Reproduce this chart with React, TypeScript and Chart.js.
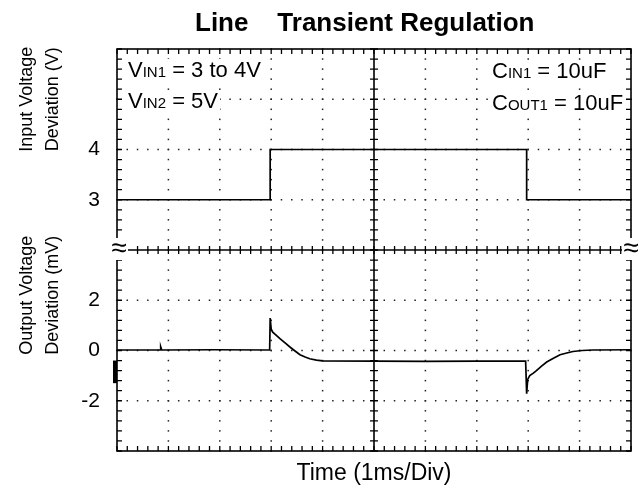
import { useEffect, useRef } from "react";
import { Chart, registerables } from "chart.js";

Chart.register(...registerables);

// ---- data ----
const titleText = "Line    Transient Regulation";
const xTitle = "Time (1ms/Div)";
const inputTitle = ["Input Voltage", "Deviation (V)"];
const outputTitle = ["Output Voltage", "Deviation (mV)"];

const timeDivisions = 10; // ms, 1 ms / div
const inputRange = [2, 6]; // V, 1 V / div
const outputRange = [-4, 4]; // mV, 2 mV / div
const inputTicks = [3, 4];
const outputTicks = [-2, 0, 2];

const inputTime = [0, 2.98, 2.98, 7.97, 7.97, 10];
const inputVolts = [3, 3, 4, 4, 3, 3];

const outputTime = [
  0, 0.84, 0.85, 0.87, 1.9, 2.97, 2.98, 3.0, 3.03, 3.1, 3.17, 3.27, 3.37, 3.47, 3.56, 3.66,
  3.75, 3.88, 4.0, 5.0, 6.0, 7.0, 7.95, 7.97, 7.99, 8.03, 8.1, 8.16, 8.26, 8.36, 8.5, 8.62,
  8.75, 8.87, 9.05, 9.26, 10,
];
const outputMv = [
  0.02, 0.02, 0.15, 0.02, 0.03, 0.02, 1.29, 0.85, 0.73, 0.6, 0.47, 0.3, 0.13, -0.03, -0.17, -0.26,
  -0.33, -0.38, -0.41, -0.42, -0.43, -0.42, -0.42, -1.72, -1.15, -1.0, -0.9, -0.8, -0.62, -0.46,
  -0.3, -0.17, -0.1, -0.04, 0, 0.02, 0.03,
];
const groundMarkerMv = [-0.4, -1.3];

const leftNotes = [
  [{ t: "V", s: 22 }, { t: "IN1", s: 15 }, { t: " = 3 to 4V", s: 22 }],
  [{ t: "V", s: 22 }, { t: "IN2", s: 15 }, { t: " = 5V", s: 22 }],
];
const rightNotes = [
  [{ t: "C", s: 22 }, { t: "IN1", s: 15 }, { t: " = 10uF", s: 22 }],
  [{ t: "C", s: 22 }, { t: "OUT1", s: 15 }, { t: " = 10uF", s: 22 }],
];

const FONT = "'Liberation Sans', Arial, Helvetica, sans-serif";

function drawRich(ctx: CanvasRenderingContext2D, parts: { t: string; s: number }[], x: number, baseline: number) {
  let w = 0;
  for (const p of parts) {
    ctx.font = `${p.s}px ${FONT}`;
    w += ctx.measureText(p.t).width;
  }
  ctx.fillStyle = "#fff";
  ctx.fillRect(x - 2, baseline - 18, w + 4, 23);
  ctx.fillStyle = "#000";
  ctx.textBaseline = "alphabetic";
  ctx.textAlign = "left";
  let cx = x;
  for (const p of parts) {
    ctx.font = `${p.s}px ${FONT}`;
    ctx.fillText(p.t, cx, baseline);
    cx += ctx.measureText(p.t).width;
  }
}

const scopePlugin = {
  id: "scope",
  beforeDatasetsDraw(chart: any) {
    const { ctx, chartArea: a, scales } = chart;
    const xs = scales.x, yi = scales.yIn, yo = scales.yOut;
    const xMinor: number[] = [];
    for (let k = 0; k <= timeDivisions * 5; k++) xMinor.push(xs.getPixelForValue(k / 5));
    const yMinor: number[] = [];
    const inStep = (inputRange[1] - inputRange[0]) / 20;
    const outStep = (outputRange[1] - outputRange[0]) / 20;
    for (let k = 0; k <= 20; k++) yMinor.push(yi.getPixelForValue(inputRange[1] - k * inStep));
    for (let k = 1; k <= 20; k++) yMinor.push(yo.getPixelForValue(outputRange[1] - k * outStep));
    const xMajor: number[] = [];
    for (let t = 1; t < timeDivisions; t++) if (t !== timeDivisions / 2) xMajor.push(xs.getPixelForValue(t));
    const yMajor: number[] = [];
    for (let v = inputRange[0] + 1; v < inputRange[1]; v++) yMajor.push(yi.getPixelForValue(v));
    for (let v = outputRange[0] + 2; v < outputRange[1]; v += 2) yMajor.push(yo.getPixelForValue(v));

    ctx.save();
    ctx.fillStyle = "#222";
    for (const x of xMajor) for (const y of yMinor) ctx.fillRect(x - 0.75, y - 0.75, 1.5, 1.5);
    for (const y of yMajor) for (const x of xMinor) ctx.fillRect(x - 0.75, y - 0.75, 1.5, 1.5);

    ctx.strokeStyle = "#000";
    ctx.lineWidth = 1.6;
    const cx = xs.getPixelForValue(timeDivisions / 2);
    const cy = yi.getPixelForValue(inputRange[0]);
    ctx.beginPath();
    ctx.moveTo(cx, a.top); ctx.lineTo(cx, a.bottom);
    ctx.moveTo(a.left, cy); ctx.lineTo(a.right, cy);
    ctx.stroke();
    ctx.lineWidth = 1.3;
    ctx.beginPath();
    for (const y of yMinor) { ctx.moveTo(cx - 4, y); ctx.lineTo(cx + 4, y); }
    for (const x of xMinor) { ctx.moveTo(x, cy - 4); ctx.lineTo(x, cy + 4); }
    for (const x of xMinor) {
      ctx.moveTo(x, a.top); ctx.lineTo(x, a.top + 5);
      ctx.moveTo(x, a.bottom); ctx.lineTo(x, a.bottom - 5);
    }
    for (const y of yMinor) {
      ctx.moveTo(a.left, y); ctx.lineTo(a.left + 5, y);
      ctx.moveTo(a.right, y); ctx.lineTo(a.right - 5, y);
    }
    ctx.stroke();
    ctx.lineWidth = 1.6;
    ctx.strokeRect(a.left, a.top, a.right - a.left, a.bottom - a.top);

    // ground marker
    const g0 = yo.getPixelForValue(groundMarkerMv[0]);
    const g1 = yo.getPixelForValue(groundMarkerMv[1]);
    ctx.fillStyle = "#000";
    ctx.fillRect(a.left - 4, g0, 4, g1 - g0);
    ctx.restore();
  },
  afterDatasetsDraw(chart: any) {
    const { ctx, chartArea: a, scales } = chart;
    const yi = scales.yIn;
    const cy = yi.getPixelForValue(inputRange[0]);
    ctx.save();
    // break symbols
    ctx.font = `28px ${FONT}`;
    ctx.textAlign = "center";
    ctx.textBaseline = "middle";
    for (const x of [a.left + 2, a.right]) {
      ctx.fillStyle = "#fff";
      ctx.fillRect(x - 9, cy - 12, 18, 22);
      ctx.fillStyle = "#000";
      ctx.fillText("\u2248", x, cy - 1);
    }
    // notes
    drawRich(ctx, leftNotes[0], a.left + 11, a.top + 28);
    drawRich(ctx, leftNotes[1], a.left + 11, a.top + 59);
    drawRich(ctx, rightNotes[0], a.right - 139, a.top + 29);
    drawRich(ctx, rightNotes[1], a.right - 139, a.top + 61);
    ctx.restore();
  },
  afterDraw(chart: any) {
    const { ctx, chartArea: a, scales } = chart;
    const yi = scales.yIn, yo = scales.yOut;
    const cx = (a.left + a.right) / 2;
    ctx.save();
    ctx.fillStyle = "#000";
    ctx.textAlign = "left";
    ctx.textBaseline = "alphabetic";
    ctx.font = `bold 26px ${FONT}`;
    ctx.fillText(titleText, a.left + 78, 31);
    ctx.textAlign = "center";
    ctx.font = `23px ${FONT}`;
    ctx.fillText(xTitle, cx, 480);
    // y titles
    ctx.textBaseline = "middle";
    const drawY = (lines: string[], yc: number) => {
      ctx.save();
      ctx.translate(0, yc);
      ctx.rotate(-Math.PI / 2);
      ctx.font = `18px ${FONT}`;
      ctx.fillText(lines[0], 0, 27);
      ctx.fillText(lines[1], 0, 53);
      ctx.restore();
    };
    drawY(inputTitle, yi.getPixelForValue(5));
    drawY(outputTitle, yo.getPixelForValue(2.2));
    ctx.restore();
  },
};

function tickList(values: number[]) {
  return (scale: any) => {
    scale.ticks = values.map((v) => ({ value: v }));
  };
}

export default function App() {
  const ref = useRef<HTMLCanvasElement>(null);
  useEffect(() => {
    const tickFont = { family: FONT, size: 21 };
    const chart = new Chart(ref.current!, {
      type: "line",
      data: {
        datasets: [
          {
            label: "Input",
            data: inputTime.map((t, i) => ({ x: t, y: inputVolts[i] })),
            yAxisID: "yIn",
            borderColor: "#000",
            borderWidth: 1.7,
            pointRadius: 0,
            tension: 0,
          },
          {
            label: "Output",
            data: outputTime.map((t, i) => ({ x: t, y: outputMv[i] })),
            yAxisID: "yOut",
            borderColor: "#000",
            borderWidth: 1.7,
            pointRadius: 0,
            tension: 0,
          },
        ],
      },
      options: {
        animation: false,
        responsive: false,
        devicePixelRatio: 1,
        layout: { padding: { left: 0, top: 49, right: 11, bottom: 42 } },
        plugins: { legend: { display: false }, title: { display: false }, tooltip: { enabled: false } },
        scales: {
          x: { type: "linear", min: 0, max: timeDivisions, display: false },
          yIn: {
            type: "linear",
            position: "left",
            stack: "scope",
            stackWeight: 1,
            weight: 1,
            min: inputRange[0],
            max: inputRange[1],
            grid: { display: false, drawTicks: false },
            border: { display: false },
            ticks: { font: tickFont, color: "#000", padding: 17 },
            afterBuildTicks: tickList(inputTicks),
            afterFit: (s: any) => { s.width = 117; },
          },
          yOut: {
            type: "linear",
            position: "left",
            stack: "scope",
            stackWeight: 1,
            weight: 0,
            min: outputRange[0],
            max: outputRange[1],
            grid: { display: false, drawTicks: false },
            border: { display: false },
            ticks: { font: tickFont, color: "#000", padding: 17 },
            afterBuildTicks: tickList(outputTicks),
            afterFit: (s: any) => { s.width = 117; },
          },
        },
      } as any,
      plugins: [scopePlugin],
    });
    return () => chart.destroy();
  }, []);
  return (
    <div style={{ position: "fixed", left: 0, top: 0, width: 642, height: 493, background: "#fff" }}>
      <canvas ref={ref} width={642} height={493} style={{ display: "block" }} />
    </div>
  );
}
